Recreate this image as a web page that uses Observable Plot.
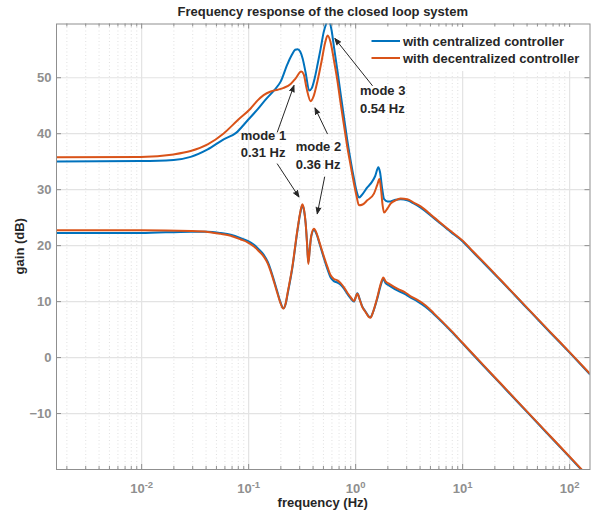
<!DOCTYPE html>
<html><head><meta charset="utf-8">
<script src="https://cdn.jsdelivr.net/npm/d3@7"></script>
<script src="https://cdn.jsdelivr.net/npm/@observablehq/plot@0.6"></script>
<style>body{margin:0;background:#fff} #chart{position:relative;width:600px;height:519px}</style>
</head><body><div id="chart"></div>
<script>
const titleText = "Frequency response of the closed loop system";
const xLabel = "frequency (Hz)";
const yLabel = "gain (dB)";
const seriesNames = ["with centralized controller", "with decentralized controller"];
const seriesColors = ["#0072BD", "#D95319"];

const xDomain = [0.0016, 155];
const yDomain = [-20, 59.6];
const xMajorTicks = [0.01, 0.1, 1, 10, 100];
const xMinorMultipliers = [2, 3, 4, 5, 6, 7, 8, 9];
const xMinorDecades = [0.001, 0.01, 0.1, 1, 10, 100];
const yTicks = [-10, 0, 10, 20, 30, 40, 50];

// [frequency Hz, gain dB]
const centralizedUpper = [
 [0.0016,35.05],[0.0098,35.1],[0.0199,35.3],[0.0287,35.86],[0.0414,37.2],[0.0584,39.0],[0.0757,40.1],
 [0.098,42.4],[0.1205,44.3],[0.144,46.1],[0.172,47.7],[0.199,49.3],[0.230,52.4],[0.252,54.0],[0.272,55.0],
 [0.287,55.1],[0.303,54.7],[0.320,53.4],[0.341,50.9],[0.368,47.7],[0.388,48.1],[0.414,49.9],[0.441,52.4],
 [0.471,55.2],[0.502,58.1],[0.536,59.9],[0.553,60.6],[0.571,60.05],[0.597,58.4],[0.627,55.5],[0.675,51.3],
 [0.724,47.1],[0.778,42.9],[0.836,38.8],[0.898,35.2],[0.964,32.0],[1.021,29.7],[1.074,28.6],[1.138,29.0],
 [1.285,30.4],[1.41,31.3],[1.52,32.4],[1.63,34.0],[1.69,33.1],[1.77,30.2],[1.846,28.3],[1.99,27.9],
 [2.12,27.9],[2.36,28.2],[2.63,28.3],[3.04,28.1],[3.48,27.55],[4.05,26.8],[5.39,24.9],[7.73,22.45],
 [10.07,20.7],[12.6,18.75],[15.8,16.85],[22.6,13.8],[37.4,9.4],[66.4,4.4],[102,0.7],[155,-3.0]
];
const decentralizedUpper = [
 [0.0016,35.8],[0.0098,35.85],[0.0199,36.3],[0.0287,36.9],[0.0414,38.1],[0.0584,40.05],[0.0789,42.4],
 [0.1044,44.5],[0.1214,45.95],[0.138,46.9],[0.1607,47.55],[0.1868,47.86],[0.2124,48.2],[0.247,48.9],
 [0.275,49.9],[0.31,51.1],[0.327,50.6],[0.348,48.1],[0.380,45.8],[0.405,46.7],[0.441,49.5],[0.481,53.0],
 [0.519,56.3],[0.547,57.55],[0.584,56.3],[0.627,53.1],[0.675,49.5],[0.724,45.4],[0.778,41.5],[0.836,37.6],
 [0.898,34.3],[0.964,31.1],[1.021,28.8],[1.074,27.2],[1.162,27.35],[1.285,28.1],[1.483,29.3],[1.589,30.8],
 [1.668,31.9],[1.73,29.9],[1.787,27.2],[1.846,25.9],[1.99,26.7],[2.12,27.5],[2.36,28.1],[2.63,28.4],
 [3.04,28.3],[3.48,27.7],[4.05,27.0],[5.39,25.05],[7.73,22.6],[10.07,20.85],[12.6,18.9],[15.8,17.0],
 [22.6,13.9],[37.4,9.5],[66.4,4.5],[102,0.8],[155,-2.9]
];
const centralizedLower = [
 [0.0016,22.25],[0.0098,22.25],[0.0289,22.5],[0.0414,22.5],[0.0547,22.25],[0.068,21.95],[0.0844,21.35],
 [0.0977,20.85],[0.113,20.1],[0.124,19.35],[0.139,18.3],[0.151,17.1],[0.1607,15.7],[0.173,13.7],[0.1855,11.75],
 [0.197,10.05],[0.211,8.8],[0.222,9.6],[0.231,11.3],[0.256,16.0],[0.285,22.5],[0.303,25.7],[0.318,27.2],
 [0.330,26.2],[0.341,24.0],[0.352,20.3],[0.361,17.0],[0.372,19.3],[0.384,21.6],[0.408,22.8],[0.432,22.0],
 [0.454,20.7],[0.506,17.7],[0.547,15.7],[0.584,14.3],[0.622,13.7],[0.675,13.4],[0.724,13.0],[0.778,12.3],
 [0.842,11.3],[0.898,10.6],[0.964,10.0],[1.037,11.5],[1.089,10.5],[1.155,9.1],[1.24,8.2],[1.32,7.4],
 [1.38,7.2],[1.44,7.9],[1.596,10.6],[1.71,12.8],[1.815,14.0],[1.905,13.3],[2.05,12.9],[2.45,12.0],
 [2.87,11.4],[3.27,10.7],[3.78,10.05],[4.51,9.05],[5.39,7.75],[7.73,4.8],[10.07,2.45],[15.8,-1.55],
 [22.6,-4.7],[40.3,-9.8],[66.4,-14.2],[126.8,-19.9],[157,-21.8]
];
const decentralizedLower = [
 [0.0016,22.73],[0.0098,22.73],[0.0289,22.6],[0.0414,22.45],[0.0547,22.1],[0.068,21.75],[0.0844,21.1],
 [0.0977,20.6],[0.113,19.8],[0.124,19.05],[0.139,18.0],[0.151,16.8],[0.1607,15.4],[0.173,13.45],[0.1855,11.5],
 [0.197,9.9],[0.211,8.75],[0.222,9.7],[0.231,11.5],[0.256,16.2],[0.285,22.7],[0.303,25.9],[0.318,27.4],
 [0.330,26.3],[0.341,24.0],[0.352,20.1],[0.361,16.7],[0.372,19.2],[0.384,21.7],[0.408,23.0],[0.432,22.2],
 [0.454,20.9],[0.506,18.0],[0.547,16.1],[0.584,14.7],[0.622,14.1],[0.675,13.8],[0.724,13.3],[0.778,12.55],
 [0.842,11.5],[0.898,10.8],[0.964,10.1],[1.037,11.4],[1.089,10.4],[1.155,9.0],[1.24,8.1],[1.32,7.3],
 [1.38,7.1],[1.44,7.9],[1.596,10.8],[1.71,13.1],[1.815,14.3],[1.905,13.6],[2.05,13.2],[2.45,12.3],
 [2.87,11.7],[3.27,10.95],[3.78,10.3],[4.51,9.3],[5.39,7.9],[7.73,4.9],[10.07,2.55],[15.8,-1.45],
 [22.6,-4.6],[40.3,-9.7],[66.4,-14.1],[126.8,-19.8],[157,-21.7]
];

// annotations: text lines [freq, dB, text] and arrows [fromF, fromDb, toF, toDb]
const annotationLines = [
 [0.0842,39.7,"mode 1"],[0.0842,36.5,"0.31 Hz"],
 [0.275,37.6,"mode 2"],[0.275,34.5,"0.36 Hz"],
 [1.096,47.6,"mode 3"],[1.096,44.4,"0.54 Hz"]
];
const annotationArrows = [
 [0.1854,40.3,0.265,48.6],
 [0.1854,34.6,0.295,28.7],
 [0.544,40.0,0.417,44.6],
 [0.513,32.25,0.438,25.7],
 [1.432,48.6,0.640,57.0]
];

const toRows = arr => arr.map(([f, g]) => ({f, g}));
const xMinorTicks = xMinorDecades.flatMap(d => xMinorMultipliers.map(m => m * d))
  .filter(v => v > xDomain[0] && v < xDomain[1]);

const W = 600, H = 519, mL = 56, mR = 10.5, mT = 23.5, mB = 50;
const plotH = H - mT - mB, plotW = W - mL - mR;
const axisGray = "#8f8f8f";
const textDark = "#262626";
const fontFamily = "'Liberation Sans', Arial, sans-serif";
const lineStyle = {x: "f", y: "g", strokeWidth: 2, curve: "monotone-x", clip: true};

const chart = Plot.plot({
  width: W, height: H,
  marginLeft: mL, marginRight: mR, marginTop: mT, marginBottom: mB,
  style: {fontFamily, fontSize: "13px", fontWeight: "bold", background: "#fff"},
  x: {type: "log", domain: xDomain},
  y: {domain: yDomain},
  marks: [
    Plot.ruleX(xMinorTicks, {stroke: "#d8d8d8", strokeDasharray: "1,2.5", strokeWidth: 0.8}),
    Plot.ruleX(xMajorTicks, {stroke: "#e3e3e3", strokeWidth: 1.2}),
    Plot.ruleY(yTicks, {stroke: "#e3e3e3", strokeWidth: 1.2}),
    Plot.line(toRows(centralizedUpper), {...lineStyle, stroke: seriesColors[0]}),
    Plot.line(toRows(centralizedLower), {...lineStyle, stroke: seriesColors[0]}),
    Plot.line(toRows(decentralizedUpper), {...lineStyle, stroke: seriesColors[1]}),
    Plot.line(toRows(decentralizedLower), {...lineStyle, stroke: seriesColors[1]}),
    Plot.tickX(xMajorTicks, {stroke: axisGray, insetTop: plotH - 5}),
    Plot.tickX(xMajorTicks, {stroke: axisGray, insetBottom: plotH - 5}),
    Plot.tickX(xMinorTicks, {stroke: axisGray, insetTop: plotH - 3}),
    Plot.tickX(xMinorTicks, {stroke: axisGray, insetBottom: plotH - 3}),
    Plot.tickY(yTicks, {stroke: axisGray, insetRight: plotW - 5}),
    Plot.tickY(yTicks, {stroke: axisGray, insetLeft: plotW - 5}),
    Plot.frame({stroke: axisGray}),
    Plot.axisX({ticks: xMajorTicks, tickSize: 0, tickPadding: 14, label: null, fill: axisGray,
      fontSize: 13, fontWeight: "bold", tickFormat: d => "10^" + Math.round(Math.log10(d))}),
    Plot.axisY({ticks: yTicks, tickSize: 0, tickPadding: 5, label: null, fill: axisGray,
      fontSize: 13, fontWeight: "bold"}),
    Plot.arrow(annotationArrows, {x1: d => d[0], y1: d => d[1], x2: d => d[2], y2: d => d[3],
      stroke: textDark, strokeWidth: 1, headLength: 10, headAngle: 42}),
    Plot.text(annotationLines, {x: d => d[0], y: d => d[1], text: d => d[2], textAnchor: "start",
      fill: textDark, fontSize: 13, fontWeight: "bold"})
  ]
});

const svg = d3.select(chart);
// superscript exponents on the log axis
svg.selectAll('g[aria-label="x-axis tick label"] text').each(function() {
  const t = this.textContent; const [base, exp] = t.split("^");
  const el = d3.select(this); el.text(null);
  el.append("tspan").text(base);
  el.append("tspan").attr("dy", "-0.5em").attr("font-size", "9.5px").text(exp);
});
svg.selectAll('g[aria-label="x-axis tick label"] text, g[aria-label="y-axis tick label"] text')
  .style("font-size", "13px").style("font-weight", "bold").style("font-family", fontFamily);
svg.selectAll('g[aria-label="x-axis tick label"] text tspan:nth-child(2)').style("font-size", "9.5px");
// filled arrowheads
svg.selectAll('g[aria-label="arrow"] path').attr("fill", textDark);

const addText = (x, y, s, anchor) => svg.append("text").attr("x", x).attr("y", y)
  .attr("text-anchor", anchor).attr("fill", textDark).attr("font-size", 13)
  .attr("font-weight", "bold").attr("font-family", fontFamily).text(s);
// title and axis labels
addText(mL + plotW / 2, 16, titleText, "middle");
addText(mL + plotW / 2, 507, xLabel, "middle");
addText(0, 0, yLabel, "middle").attr("transform", `translate(24,${mT + plotH / 2}) rotate(-90)`);

// legend
const lg = svg.append("g");
lg.append("rect").attr("x", 363).attr("y", 27).attr("width", 225).attr("height", 44)
  .attr("fill", "#ffffff").attr("stroke", "none");
seriesNames.forEach((name, i) => {
  const y = 41 + i * 17;
  lg.append("line").attr("x1", 371.5).attr("x2", 400).attr("y1", y).attr("y2", y)
    .attr("stroke", seriesColors[i]).attr("stroke-width", 2);
  lg.append("text").attr("x", 403).attr("y", y).attr("dy", "0.35em").attr("fill", textDark)
    .attr("text-anchor", "start").attr("font-size", 13).attr("font-weight", "bold")
    .attr("font-family", fontFamily).text(name);
});

document.getElementById("chart").appendChild(chart);
</script>
</body></html>
